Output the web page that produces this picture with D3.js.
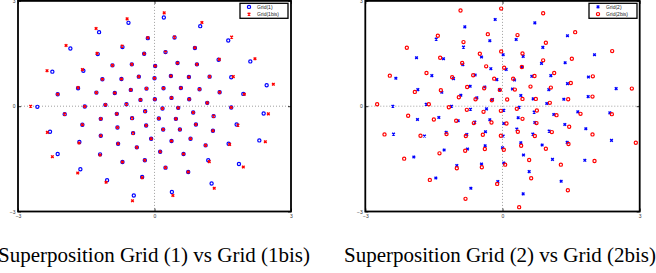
<!DOCTYPE html>
<html>
<head>
<meta charset="utf-8">
<script src="https://cdn.jsdelivr.net/npm/d3@7"></script>
<style>
  body { margin: 0; background: #fff; }
  svg { display: block; }
</style>
</head>
<body>
<script>
// point sets (x, y)
var grid1 = [
  [0.205,2.526],[-0.572,2.375],[-1.218,2.110],[1.005,2.280],[-0.147,1.939],[0.440,1.958],[1.621,1.873],[-1.849,1.646],[-0.704,1.684],[-1.247,1.485],
  [-0.227,1.495],[0.242,1.542],[0.888,1.656],[1.409,1.325],[2.106,1.277],[-0.924,1.164],[-0.499,1.192],[0.015,1.145],[0.506,1.230],[0.932,1.192],
  [-2.245,0.984],[-1.563,1.012],[-1.145,0.766],[-0.726,0.776],[-0.345,0.842],[0,0.795],[0.360,0.861],[0.756,0.833],[1.211,0.842],[1.687,0.823],
  [2.465,0.596],[-1.680,0.511],[-2.128,0.341],[-1.277,0.388],[-0.873,0.378],[-0.521,0.464],[-0.176,0.501],[0.198,0.511],[0.580,0.520],[0.990,0.482],
  [1.431,0.397],[1.952,0.350],[-2.575,-0.019],[-1.533,-0.009],[-1.079,0.038],[-0.616,0.057],[-0.308,0.180],[0.007,0.199],[0.374,0.237],[0.763,0.199],
  [1.159,0.095],[1.687,-0.038],[2.399,-0.208],[-1.974,-0.227],[-0.829,-0.218],[-0.205,-0.142],[0.176,-0.066],[0.521,-0.047],[0.851,-0.180],[1.299,-0.284],
  [-1.585,-0.530],[-1.181,-0.360],[-0.492,-0.341],[-0.183,-0.549],[0.095,-0.350],[0.470,-0.360],[0.910,-0.520],[1.805,-0.520],[-2.296,-0.728],[-0.814,-0.606],
  [0.191,-0.662],[0.558,-0.662],[1.284,-0.700],[-1.181,-0.842],[-0.470,-0.766],[-0.073,-0.927],[2.304,-0.974],[-1.651,-1.022],[-0.800,-1.069],[-0.389,-1.173],
  [0.374,-0.993],[0.792,-0.927],[1.123,-1.116],[1.629,-1.069],[-2.128,-1.362],[-1.196,-1.372],[0.125,-1.296],[0.638,-1.362],[-0.704,-1.589],[-0.213,-1.542],
  [1.181,-1.542],[1.856,-1.646],[-1.629,-1.798],[0.242,-1.750],[0.741,-1.873],[-0.271,-2.015],[-1.042,-2.110],[1.255,-2.204],[0.382,-2.441],[-0.455,-2.545]
];

var grid1bis = [
  [0.213,2.658],[-0.602,2.488],[-1.284,2.214],[1.042,2.384],[-0.147,1.949],[0.440,1.968],[1.695,1.968],[-1.944,1.731],[-0.712,1.712],[-1.262,1.504],
  [-0.227,1.495],[0.242,1.542],[0.888,1.665],[1.423,1.334],[2.208,1.353],[-0.924,1.164],[-0.499,1.192],[0.015,1.145],[0.506,1.230],[0.932,1.192],
  [-2.362,1.012],[-1.585,1.041],[-1.145,0.766],[-0.726,0.776],[-0.345,0.842],[0,0.795],[0.360,0.861],[0.756,0.833],[1.211,0.842],[1.731,0.842],
  [2.612,0.624],[-1.680,0.530],[-2.128,0.341],[-1.277,0.388],[-0.873,0.378],[-0.521,0.464],[-0.176,0.501],[0.198,0.511],[0.580,0.520],[0.990,0.482],
  [1.431,0.397],[1.974,0.341],[-2.722,0],[-1.533,-0.009],[-1.079,0.038],[-0.616,0.057],[-0.308,0.180],[0.007,0.199],[0.374,0.237],[0.763,0.199],
  [1.159,0.095],[1.687,-0.038],[2.502,-0.218],[-1.974,-0.227],[-0.829,-0.218],[-0.205,-0.142],[0.176,-0.066],[0.521,-0.047],[0.851,-0.180],[1.299,-0.284],
  [-1.585,-0.530],[-1.181,-0.360],[-0.492,-0.341],[-0.183,-0.549],[0.095,-0.350],[0.470,-0.360],[0.910,-0.520],[1.834,-0.539],[-2.355,-0.747],[-0.814,-0.606],
  [0.191,-0.662],[0.558,-0.662],[1.284,-0.700],[-1.181,-0.842],[-0.470,-0.766],[-0.073,-0.927],[2.436,-1.012],[-1.658,-1.050],[-0.800,-1.069],[-0.389,-1.173],
  [0.374,-0.993],[0.792,-0.927],[1.123,-1.116],[1.651,-1.088],[-2.245,-1.438],[-1.196,-1.391],[0.125,-1.296],[0.638,-1.362],[-0.704,-1.589],[-0.213,-1.542],
  [1.203,-1.580],[1.952,-1.731],[-1.687,-1.902],[0.242,-1.750],[0.741,-1.873],[-0.271,-2.034],[-1.064,-2.167],[1.313,-2.337],[0.404,-2.545],[-0.484,-2.696]
];

var grid2 = [
  [-0.824,2.261],[-0.160,2.469],[-0.277,1.864],[-1.450,1.911],[-0.853,1.684],[-0.459,1.400],[-1.290,1.353],[-1.880,1.381],[-0.867,1.183],[-0.255,1.069],
  [-2.332,0.795],[-1.545,0.870],[-1.071,0.785],[-0.598,0.889],[-0.124,0.757],[-1.851,0.473],[-1.327,0.397],[-0.707,0.568],[-0.386,0.549],[-0.066,0.473],
  [-0.911,0.312],[-0.561,0.237],[-0.219,0.189],[-2.398,0],[-1.669,0.057],[-1.115,0],[-0.700,-0.085],[-0.350,-0.076],[-1.859,-0.378],[-1.392,-0.322],
  [-0.969,-0.416],[-0.605,-0.454],[-0.277,-0.388],[-2.383,-0.795],[-1.706,-0.851],[-1.232,-0.747],[-0.780,-0.804],[-0.372,-0.728],[0.015,-0.851],[-1.276,-1.249],
  [-0.765,-1.220],[-0.379,-1.126],[-1.939,-1.447],[-0.999,-1.693],[-0.459,-1.646],[-1.458,-2.044],[-0.102,-2.148],[-0.692,-2.337],
  [0.707,2.375],[1.421,2.006],[0.299,1.902],[0.882,1.675],[2.012,1.466],[0.452,1.419],[0.015,1.466],[1.370,1.239],[0.853,1.220],[0.080,1.050],
  [0.430,1.116],[0.641,0.851],[0.262,0.747],[1.057,0.870],[1.880,0.833],[1.421,0.643],[0.219,0.492],[1.013,0.473],[2.485,0.501],[0.401,0.303],
  [0.671,0.208],[1.341,0.199],[1.873,0.274],[0.969,0.076],[0.364,-0.028],[0.029,-0.114],[0.692,-0.170],[1.122,-0.237],[1.647,-0.161],[2.347,-0.189],
  [0.343,-0.331],[0.707,-0.464],[1.363,-0.520],[0.029,-0.492],[1.822,-0.643],[0.313,-0.653],[0.663,-0.795],[1.020,-0.710],[2.383,-0.974],[0.401,-1.041],
  [0.867,-1.107],[1.414,-1.031],[0.459,-1.391],[1.093,-1.514],[1.800,-1.542],[0.029,-1.618],[0,-1.183],[0.583,-1.864],[1.283,-2.138],[0.452,-2.498]
];

var grid2bis = [
  [-0.918,2.725],[-1.414,2.006],[-0.321,2.053],[-0.853,1.826],[-2.092,1.665],[-0.496,1.495],[-1.363,1.381],[-0.029,1.561],[-0.882,1.230],[-0.357,1.135],
  [-2.464,0.870],[-1.662,0.946],[-1.101,0.823],[-0.641,0.880],[-0.182,0.785],[-1.917,0.407],[-1.348,0.454],[-0.773,0.549],[-0.401,0.511],[-0.058,0.464],
  [-0.955,0.255],[-0.590,0.199],[-0.233,0.170],[-2.741,0.057],[-1.611,0.057],[-1.173,-0.028],[-0.780,-0.104],[-0.415,-0.161],[-0.036,-0.132],[-2.063,-0.274],
  [-1.501,-0.378],[-1.013,-0.416],[-0.627,-0.482],[-0.241,-0.464],[-2.580,-0.804],[-1.793,-0.842],[-1.224,-0.795],[-0.802,-0.851],[-0.430,-0.814],[-0.036,-0.842],
  [-1.378,-1.343],[-0.816,-1.268],[-0.386,-1.220],[-2.150,-1.495],[-0.999,-1.769],[-0.452,-1.741],[-1.589,-2.100],[-0.117,-2.214],[-0.809,-2.640],[-0.029,2.781],
  [0.889,2.649],[0.328,2.025],[1.589,2.110],[0.948,1.807],[2.398,1.570],[0.437,1.504],[0.889,1.306],[1.516,1.353],[0.036,1.097],[0.423,1.116],
  [0.233,0.785],[0.700,0.861],[1.130,0.946],[1.975,0.851],[1.494,0.662],[0.270,0.473],[0.612,0.558],[1.057,0.530],[2.828,0.501],[0.102,0.189],
  [0.437,0.208],[0.729,0.208],[1.035,0.095],[1.436,0.199],[1.968,0.274],[0.313,-0.076],[0.751,-0.123],[1.181,-0.255],[1.706,-0.218],[2.391,-0.227],
  [0.437,-0.360],[0.087,-0.492],[0.743,-0.482],[1.458,-0.587],[0.335,-0.728],[0.707,-0.851],[1.079,-0.738],[1.968,-0.804],[0.408,-1.126],[0.948,-1.211],
  [1.443,-1.079],[2.915,-1.041],[0.029,-1.239],[0.583,-1.533],[1.276,-1.665],[2.012,-1.561],[0.058,-1.665],[0.627,-2.053],[1.429,-2.394],[0.364,-2.876]
];

var tickValues = [-3, 0, 3];
var legend1 = ["Grid(1)", "Grid(1bis)"];
var legend2 = ["Grid(2)", "Grid(2bis)"];
var titles = ["Superposition Grid (1) vs Grid (1bis)", "Superposition Grid (2) vs Grid (2bis)"];

var width = 656, height = 273;
var plotTop = 0.9, plotBottom = 211.5;

var svg = d3.select("body").append("svg")
    .attr("width", width)
    .attr("height", height);

var y = d3.scaleLinear().domain([-3, 3]).range([plotBottom, plotTop]);

function drawMarker(sel, shape, color) {
    if (shape == "o") {
        sel.append("circle")
            .attr("r", 1.6)
            .attr("fill", "none")
            .attr("stroke", color)
            .attr("stroke-width", 1.2);
    } else {
        sel.append("path")
            .attr("d", "M-1.3,-1.3L1.3,1.3M-1.3,1.3L1.3,-1.3")
            .attr("stroke", color)
            .attr("stroke-width", 1.4);
    }
}

function drawPanel(p) {
    var x = d3.scaleLinear().domain([-3, 3]).range([p.left, p.right]);
    var g = svg.append("g");

    // dotted zero grid lines
    g.append("line")
        .attr("x1", x(0)).attr("x2", x(0))
        .attr("y1", plotTop).attr("y2", plotBottom)
        .attr("stroke", "#888").attr("stroke-width", 0.8)
        .attr("stroke-dasharray", "1,2");
    g.append("line")
        .attr("x1", p.left).attr("x2", p.right)
        .attr("y1", y(0)).attr("y2", y(0))
        .attr("stroke", "#888").attr("stroke-width", 0.8)
        .attr("stroke-dasharray", "1,2");

    // points, first series then second on top
    p.series.forEach(function(s) {
        var pts = g.append("g").selectAll("g")
            .data(s.data)
            .enter().append("g")
            .attr("transform", function(d) { return "translate(" + x(d[0]) + "," + y(d[1]) + ")"; });
        drawMarker(pts, s.shape, s.color);
    });

    // axes with inward ticks
    var fmt = d3.format("");
    var axB = g.append("g").attr("transform", "translate(0," + plotBottom + ")")
        .call(d3.axisBottom(x).tickValues(tickValues).tickSizeInner(-3).tickSizeOuter(0).tickPadding(2.5).tickFormat(fmt));
    var axL = g.append("g").attr("transform", "translate(" + p.left + ",0)")
        .call(d3.axisLeft(y).tickValues(tickValues).tickSizeInner(-3).tickSizeOuter(0).tickPadding(2.5).tickFormat(fmt));
    var axT = g.append("g").attr("transform", "translate(0," + plotTop + ")")
        .call(d3.axisTop(x).tickValues(tickValues).tickSizeInner(-3).tickSizeOuter(0).tickFormat(""));
    var axR = g.append("g").attr("transform", "translate(" + p.right + ",0)")
        .call(d3.axisRight(y).tickValues(tickValues).tickSizeInner(-3).tickSizeOuter(0).tickFormat(""));

    [axB, axL, axT, axR].forEach(function(a) {
        a.select(".domain").remove();
        a.selectAll("line").attr("stroke", "#000").attr("stroke-width", 0.8);
        a.selectAll("text")
            .attr("fill", "#333")
            .style("font-family", "'Liberation Sans', Arial, sans-serif")
            .style("font-size", "5px");
    });

    // frame
    g.append("rect")
        .attr("x", p.left).attr("y", plotTop)
        .attr("width", p.right - p.left).attr("height", plotBottom - plotTop)
        .attr("fill", "none").attr("stroke", "#000").attr("stroke-width", 1.8);

    // legend
    var lg = g.append("g").attr("transform", "translate(" + p.legendX + ",3.3)");
    lg.append("rect")
        .attr("width", 48).attr("height", 15)
        .attr("fill", "#fff").attr("stroke", "#000").attr("stroke-width", 1.3);
    p.series.forEach(function(s, i) {
        var row = lg.append("g").attr("transform", "translate(9," + (3.6 + i * 7.2) + ")");
        drawMarker(row, s.shape, s.color);
        row.append("text")
            .attr("x", 8).attr("y", 1.8)
            .attr("fill", "#222")
            .style("font-family", "'Liberation Sans', Arial, sans-serif")
            .style("font-size", "5px")
            .text(p.labels[i]);
    });

    // caption
    svg.append("text")
        .attr("x", p.titleX).attr("y", 262)
        .attr("text-anchor", "middle")
        .attr("fill", "#000")
        .style("font-family", "'Liberation Serif', 'Times New Roman', serif")
        .style("font-size", "21px")
        .text(p.title);
}

drawPanel({
    left: 18, right: 291, legendX: 240, titleX: 154,
    labels: legend1, title: titles[0],
    series: [
        {data: grid1, shape: "o", color: "#0000ff"},
        {data: grid1bis, shape: "x", color: "#ff0000"}
    ]
});

drawPanel({
    left: 365.3, right: 639.7, legendX: 589, titleX: 500,
    labels: legend2, title: titles[1],
    series: [
        {data: grid2, shape: "x", color: "#0000ff"},
        {data: grid2bis, shape: "o", color: "#ff0000"}
    ]
});
</script>
</body>
</html>
